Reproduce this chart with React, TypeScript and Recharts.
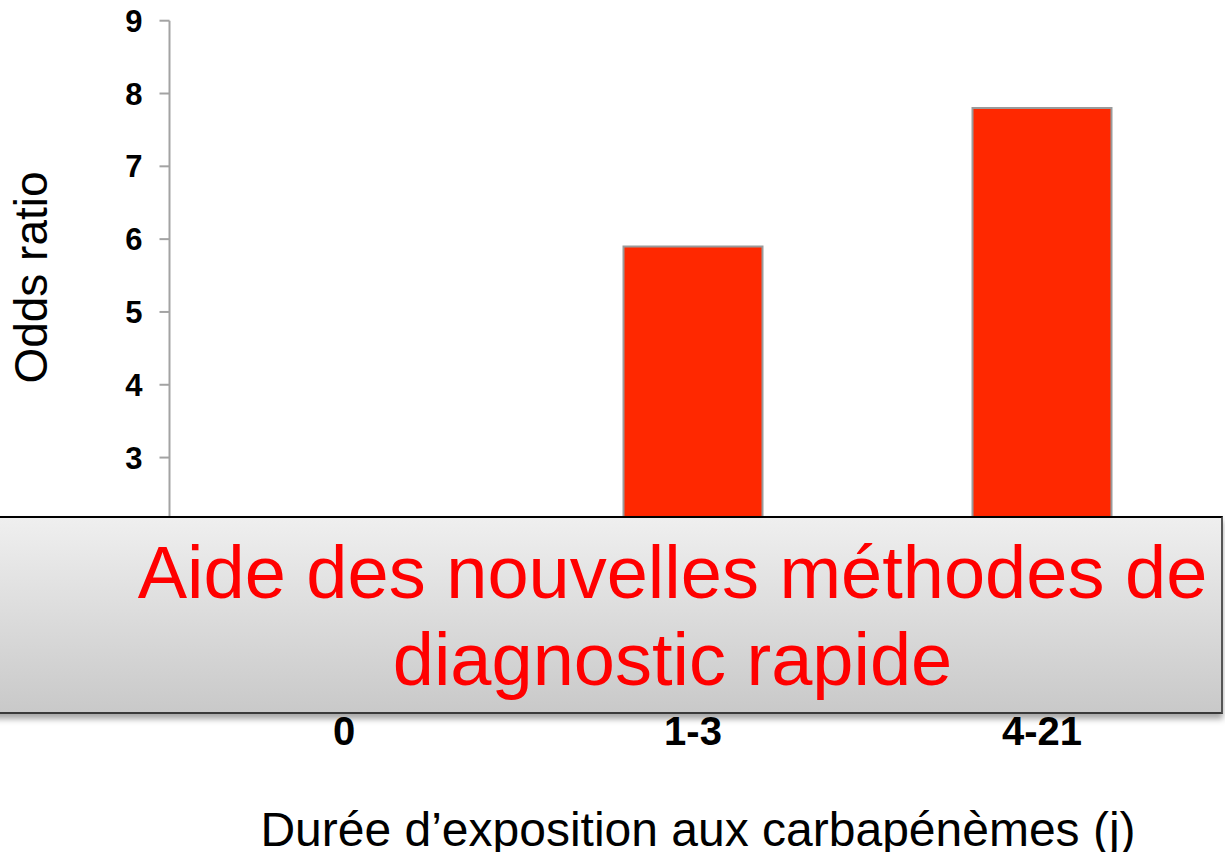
import React from 'react';
import { BarChart, Bar, XAxis, YAxis, Label } from 'recharts';

const categories = ['0', '1-3', '4-21'];
const oddsRatios = [1, 5.9, 7.8];
const yTicks = [0, 1, 2, 3, 4, 5, 6, 7, 8, 9];
const xAxisTitle = 'Durée d’exposition aux carbapénèmes (j)';
const yAxisTitle = 'Odds ratio';
const overlayLines = ['Aide des nouvelles méthodes de', 'diagnostic rapide'];

const data = categories.map((c, i) => ({ category: c, value: oddsRatios[i] }));

const FONT = '"Liberation Sans", Arial, Helvetica, sans-serif';
const AXIS_GRAY = '#a3a3a3';

const XTick = (props: any) => {
  const { x, y, payload } = props;
  return (
    <text x={x} y={y + 69} textAnchor="middle" fontFamily={FONT} fontWeight="bold" fontSize={40} fill="#000">
      {payload.value}
    </text>
  );
};

const YTick = (props: any) => {
  const { x, y, payload } = props;
  return (
    <text x={x} y={y + 11} textAnchor="end" fontFamily={FONT} fontWeight="bold" fontSize={31} fill="#000">
      {payload.value}
    </text>
  );
};

export default function App() {
  return (
    <div style={{ position: 'absolute', left: 0, top: 0, width: 1225, height: 852, overflow: 'hidden', background: '#fff' }}>
      <BarChart
        width={1225}
        height={852}
        data={data}
        margin={{ top: 20.7, right: 8.5, bottom: 76, left: 0 }}
      >
        <XAxis
          dataKey="category"
          height={100}
          tickLine={false}
          tickSize={0}
          tickMargin={0}
          axisLine={{ stroke: '#000', strokeWidth: 2 }}
          tick={<XTick />}
          interval={0}
        >
          <Label
            content={(p: any) => {
              const vb = p.viewBox || { x: 0, y: 0, width: 0 };
              return (
                <text
                  x={vb.x + vb.width / 2 + 5}
                  y={vb.y + 170}
                  textAnchor="middle"
                  fontFamily={FONT}
                  fontSize={48}
                  fill="#000"
                >
                  {xAxisTitle}
                </text>
              );
            }}
          />
        </XAxis>
        <YAxis
          width={169.5}
          domain={[0, 9]}
          ticks={yTicks}
          interval={0}
          tickSize={10}
          tickMargin={17}
          tickLine={{ stroke: AXIS_GRAY, strokeWidth: 2 }}
          axisLine={{ stroke: AXIS_GRAY, strokeWidth: 2 }}
          tick={<YTick />}
        >
          <Label
            content={() => (
              <text
                x={47}
                y={277.5}
                textAnchor="middle"
                transform="rotate(-90 47 277.5)"
                fontFamily={FONT}
                fontSize={46}
                fill="#000"
              >
                {yAxisTitle}
              </text>
            )}
          />
        </YAxis>
        <Bar
          dataKey="value"
          fill="#ff2800"
          stroke="#9a9a9a"
          strokeWidth={2}
          barSize={139}
          isAnimationActive={false}
        />
      </BarChart>
      <div
        style={{
          position: 'absolute',
          left: -10,
          top: 516,
          width: 1233,
          height: 198,
          boxSizing: 'border-box',
          borderTop: '2px solid #000',
          borderBottom: '2px solid #3a3a3a',
          borderRight: '2px solid #555',
          background: 'linear-gradient(#efefef, #c9c9c9)',
          boxShadow: '0 5px 6px rgba(0,0,0,0.35)',
        }}
      />
      <div
        style={{
          position: 'absolute',
          left: 120,
          width: 1105,
          top: 529,
          textAlign: 'center',
          color: '#ff0000',
          fontFamily: FONT,
          fontSize: 74,
          lineHeight: '87px',
          whiteSpace: 'nowrap',
        }}
      >
        {overlayLines.map((l) => (
          <div key={l}>{l}</div>
        ))}
      </div>
    </div>
  );
}
